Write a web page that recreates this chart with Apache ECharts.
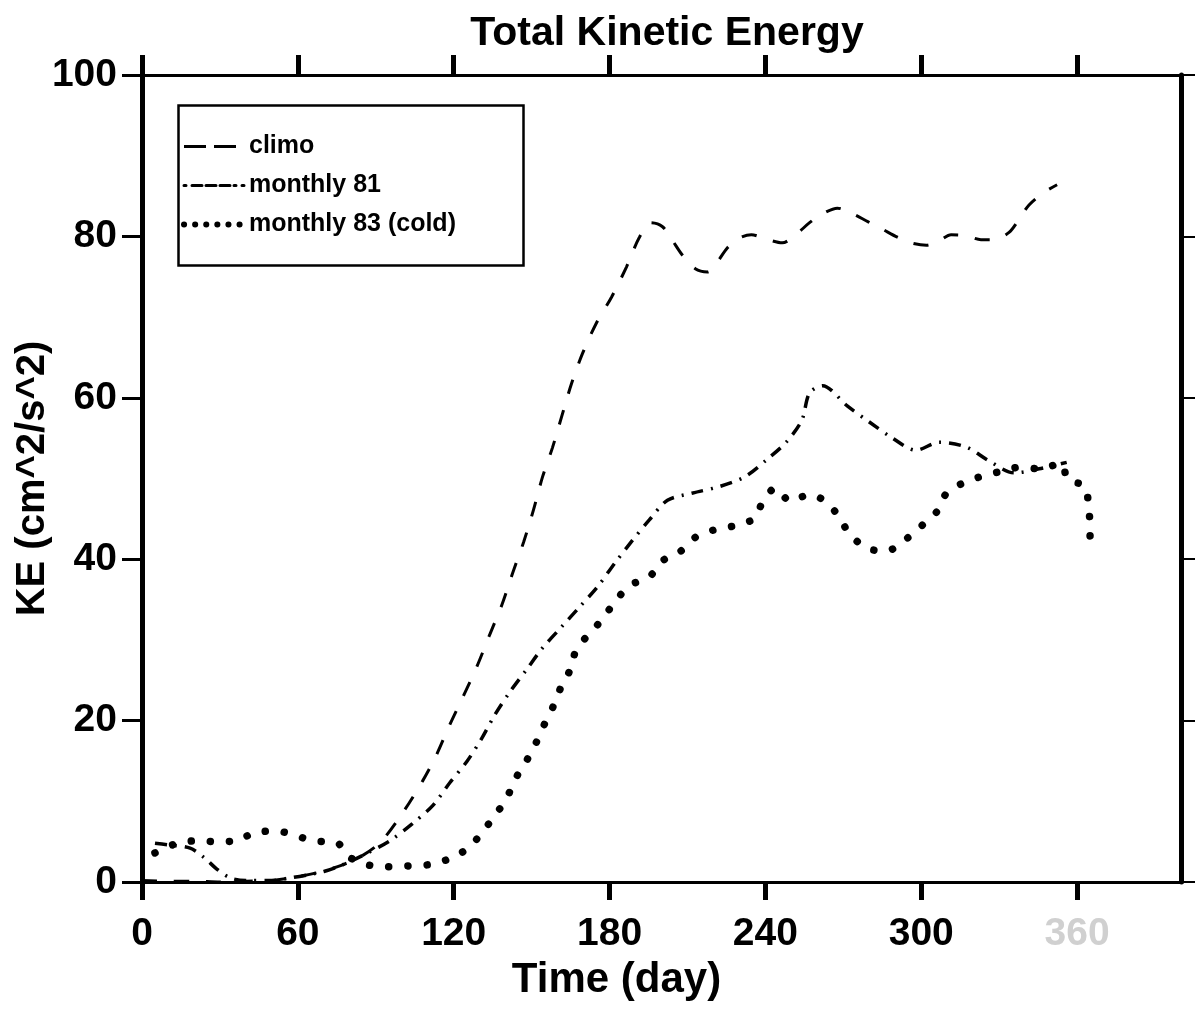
<!DOCTYPE html>
<html><head><meta charset="utf-8">
<script src="https://cdn.jsdelivr.net/npm/echarts@6/dist/echarts.min.js"></script>
<style>html,body{margin:0;padding:0;background:#fff}#c{width:1195px;height:1009px}</style>
</head><body><div id="c"></div>
<script>
// ---- data ----
const chartTitle = 'Total Kinetic Energy';
const seriesNames = ['climo', 'monthly 81', 'monthly 83 (cold)'];
const xTicks = [0, 60, 120, 180, 240, 300, 360];
const yTicks = [0, 20, 40, 60, 80, 100];

const climoDay = [0, 10, 20, 30, 40, 50, 57, 68, 77, 85, 92, 100, 108, 113, 118.5, 123.5, 128.8, 133.8, 138.5, 142.7, 146.9, 150.8, 154.2, 158, 161.5, 165.4, 169.6, 175, 180.8, 186.5, 191.5, 196, 200.4, 204, 208, 213, 217.7, 221, 225.4, 230, 234.6, 240, 246.5, 252, 257, 262, 267.7, 273, 279.6, 285, 290.8, 296, 302, 307, 311.5, 317, 323, 328, 333.8, 338, 341.5, 347, 352.3];
const climoKE  = [0.2, 0.1, 0.1, 0, 0.1, 0.2, 0.5, 1.2, 2.1, 3.3, 5.0, 8.4, 12.5, 15.5, 19.5, 22.9, 26.6, 30.6, 34.3, 38.3, 42.1, 46.2, 50.2, 53.8, 57.6, 61.8, 65.5, 69.3, 72.5, 76.2, 79.9, 81.7, 81.2, 79.6, 77.7, 76.0, 75.6, 76.6, 78.6, 79.8, 80.2, 79.7, 79.2, 80.3, 81.7, 82.8, 83.5, 82.9, 81.8, 80.9, 79.9, 79.2, 78.9, 79.5, 80.2, 80.1, 79.6, 79.6, 80.5, 82.3, 83.9, 85.4, 86.4];

const m81Day = [5, 10, 18.5, 24, 28.8, 34, 40, 50, 57, 64, 70, 77, 85, 95.4, 104, 112, 118.5, 125, 130.8, 135.8, 141.5, 148, 154.2, 161.5, 168.5, 175.4, 182, 188.5, 195.4, 202.3, 212, 222.3, 232, 240.4, 248, 254, 257, 262, 271.5, 280, 288.5, 298, 307, 317.3, 326, 335.8, 345.4, 356];
const m81KE  = [4.8, 4.6, 4.2, 3.0, 1.6, 0.5, 0.2, 0.2, 0.5, 0.9, 1.3, 2.1, 3.3, 5.1, 7.2, 9.5, 12.3, 14.9, 17.8, 20.7, 23.5, 26.3, 29.0, 31.6, 34.1, 36.6, 39.5, 42.2, 44.9, 47.3, 48.2, 49.0, 50.2, 52.3, 54.5, 57.2, 60.6, 61.5, 59.0, 57.0, 55.1, 53.5, 54.5, 53.9, 52.2, 50.7, 51.2, 52.0];

const m83Day = [5, 12.7, 20.8, 28, 36.5, 43.8, 52, 58.8, 65.8, 75, 79.2, 87.3, 94.6, 102.7, 111.5, 119.2, 126, 131, 135.8, 140.4, 143.8, 148, 151.5, 155, 158.8, 161.5, 165, 167.3, 172.7, 177.3, 182, 188, 195, 200.4, 207, 213.5, 221, 229, 236, 238.8, 243.8, 249.6, 257, 263, 268, 272.3, 278.8, 286.5, 293.8, 300, 305.8, 310, 317.3, 323.5, 331, 338, 346, 353.8, 356.5, 362.7, 364.6, 365];
const m83KE  = [3.6, 4.7, 5.1, 5.0, 5.1, 6.2, 6.3, 5.8, 5.1, 4.9, 3.2, 2.1, 1.9, 2.0, 2.2, 3.0, 4.3, 6.2, 8.2, 10.4, 12.8, 15.0, 17.1, 19.6, 22.1, 24.3, 26.4, 28.9, 30.9, 32.6, 34.7, 36.8, 37.7, 39.8, 40.9, 42.8, 43.7, 44.2, 45.1, 47.0, 48.8, 47.2, 48.0, 47.2, 45.4, 43.2, 41.4, 41.0, 42.4, 44.1, 45.8, 48.3, 49.6, 50.3, 50.9, 51.4, 51.2, 51.9, 49.8, 49.1, 46.1, 42.1];

// ---- chart ----
const zip = (d, v) => d.map((x, i) => [x, v[i]]);
const black = '#000';
const font = '"Liberation Sans", Arial, Helvetica, sans-serif';

const chart = echarts.init(document.getElementById('c'), null, {renderer: 'canvas'});
const axisCommon = {
  type: 'value', min: 0, max: 400, interval: 60,
  splitLine: {show: false}
};
chart.setOption({
  animation: false,
  backgroundColor: '#fff',
  title: {
    text: chartTitle, left: 662, top: 8, textAlign: 'center',
    textStyle: {fontFamily: font, fontWeight: 'bold', fontSize: 41, color: black}
  },
  grid: {left: 142, right: 14, top: 75, bottom: 127, containLabel: false, outerBoundsMode: 'none'},
  legend: {
    orient: 'vertical', left: 176, top: 129,
    itemWidth: 60, itemHeight: 20, itemGap: 14,
    itemStyle: {opacity: 0},
    textStyle: {fontFamily: font, fontSize: 25, fontWeight: 'bold', color: black},
    data: [
      {name: seriesNames[0], lineStyle: {color: black, width: 3, type: [22, 8]}},
      {name: seriesNames[1], lineStyle: {color: black, width: 3, type: [2, 6, 10, 4, 10, 4, 10, 4], cap: 'round'}},
      {name: seriesNames[2], lineStyle: {color: black, width: 6, type: [0.1, 11], cap: 'round'}}
    ]
  },
  graphic: [{
    type: 'rect', left: 176, top: 103, z: 10,
    shape: {width: 345, height: 160},
    style: {fill: 'none', stroke: black, lineWidth: 2.5}
  }],
  xAxis: [
    Object.assign({}, axisCommon, {
      position: 'bottom',
      name: 'Time (day)', nameLocation: 'middle', nameGap: 77, nameMoveOverlap: false,
      nameTextStyle: {fontFamily: font, fontWeight: 'bold', fontSize: 42, color: black, padding: [0, 90, 0, 0]},
      axisLine: {onZero: false, lineStyle: {color: black, width: 3}},
      axisTick: {customValues: xTicks, length: 18, lineStyle: {color: black, width: 5}},
      axisLabel: {
        customValues: xTicks, margin: 33,
        fontFamily: font, fontWeight: 'bold', fontSize: 39, color: black,
        formatter: v => v === 360 ? '{faint|360}' : String(v),
        rich: {faint: {fontFamily: font, fontWeight: 'bold', fontSize: 39, color: '#d0d0d0'}}
      }
    }),
    Object.assign({}, axisCommon, {
      position: 'top',
      axisLine: {onZero: false, lineStyle: {color: black, width: 3}},
      axisTick: {customValues: xTicks, length: 20, lineStyle: {color: black, width: 5}},
      axisLabel: {show: false}
    })
  ],
  yAxis: [
    {
      type: 'value', min: 0, max: 100, interval: 20, position: 'left',
      name: 'KE (cm^2/s^2)', nameLocation: 'middle', nameGap: 89, nameMoveOverlap: false,
      nameTextStyle: {fontFamily: font, fontWeight: 'bold', fontSize: 40, color: black},
      axisLine: {onZero: false, lineStyle: {color: black, width: 5}},
      axisTick: {customValues: yTicks, length: 20, lineStyle: {color: black, width: 3}},
      axisLabel: {customValues: yTicks, margin: 25, fontFamily: font, fontWeight: 'bold', fontSize: 39, color: black},
      splitLine: {show: false}
    },
    {
      type: 'value', min: 0, max: 100, interval: 20, position: 'right',
      axisLine: {onZero: false, lineStyle: {color: black, width: 5}},
      axisTick: {customValues: yTicks, length: 14, lineStyle: {color: black, width: 2}},
      axisLabel: {show: false},
      splitLine: {show: false}
    }
  ],
  series: [
    {name: seriesNames[0], type: 'line', data: zip(climoDay, climoKE), symbol: 'none', smooth: 0.3,
     itemStyle: {color: black},
     lineStyle: {color: black, width: 3, type: [15, 17]}},
    {name: seriesNames[1], type: 'line', data: zip(m81Day, m81KE), symbol: 'none', smooth: 0.3,
     itemStyle: {color: black},
     lineStyle: {color: black, width: 3.5, type: [12, 8, 2, 8]}},
    {name: seriesNames[2], type: 'line', data: zip(m83Day, m83KE), symbol: 'none', smooth: 0.3,
     itemStyle: {color: black},
     lineStyle: {color: black, width: 7.5, type: [0.1, 19], cap: 'round'}}
  ]
});
</script></body></html>
